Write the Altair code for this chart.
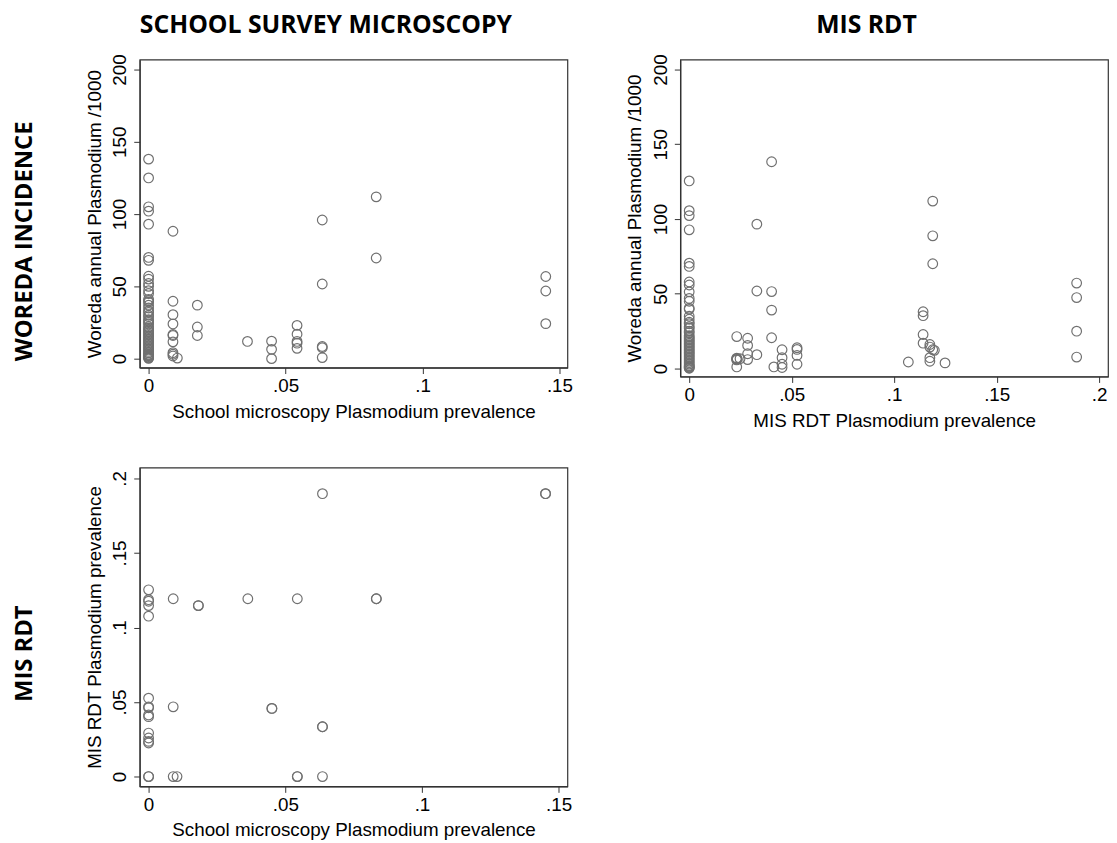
import altair as alt
import pandas as pd

# ---- Panel 1: school microscopy prevalence vs woreda incidence ----
p1_x = [0.0]*52 + [0.0089]*10 + [0.0105] + [0.0178]*3 + [0.0361] + [0.0449]*3 + \
       [0.0542]*5 + [0.0634]*5 + [0.0831]*2 + [0.145]*3
p1_y = [138, 125, 105, 102, 93, 70, 68, 57, 55, 52, 50, 47, 45, 41, 40, 39, 37, 35,
        33, 32, 30, 29, 27, 26, 25, 24, 22, 21, 20, 19, 18, 17, 16, 15, 14, 13, 12,
        11, 10, 9, 8, 7, 6, 5, 4, 3, 2.5, 2, 1.5, 1, 0.5, 0.2] + \
       [88.1, 39.7, 30.4, 24.0, 16.7, 16.0, 11.6, 4.1, 3.0, 1.8] + [0.4] + \
       [37.0, 21.9, 16.0] + [11.9] + [12.1, 6.4, 0.0] + \
       [23.0, 16.9, 11.9, 10.7, 7.1] + [95.9, 51.6, 8.4, 7.5, 0.7] + \
       [111.9, 69.6] + [56.8, 46.8, 24.2]

# ---- Panel 2: MIS RDT prevalence vs woreda incidence ----
p2_x = [0.0]*46 + [0.0232]*6 + [0.0248] + [0.0285]*4 + [0.033]*3 + [0.0402]*4 + \
       [0.0413] + [0.0453]*4 + [0.0526]*4 + [0.1069] + [0.1141]*4 + [0.1174]*4 + \
       [0.1188]*4 + [0.1196] + [0.1248] + [0.189]*4
p2_y = [125.5, 105.6, 102.3, 92.8, 70.5, 68.3, 57.9, 55.9, 51.3, 46.9, 45, 40.4,
        39.6, 35, 33, 31, 30, 28, 27, 25, 24, 22, 21, 20, 19, 18, 17, 16, 15, 14,
        13, 12, 11, 10, 9, 8, 7, 6, 5, 4, 3, 2, 1.5, 1, 0.5, 0.2] + \
       [21.4, 7.0, 6.6, 6.2, 5.8, 1.1] + [6.6] + [20.3, 15.5, 9.9, 6.0] + \
       [96.6, 51.9, 9.3] + [138.3, 51.5, 39.1, 20.6] + [1.1] + \
       [12.6, 7.3, 2.9, 0.7] + [13.9, 12.8, 8.8, 2.9] + [4.4] + \
       [38.0, 35.4, 22.8, 17.0] + [16.1, 14.4, 7.3, 4.9] + \
       [112.0, 88.8, 70.1, 12.6] + [12.2] + [3.8] + [57.2, 47.5, 25.0, 7.7]

# ---- Panel 3: school microscopy prevalence vs MIS RDT prevalence ----
p3_x = [0.0]*16 + [0.009]*3 + [0.0104] + [0.0182]*2 + [0.0363] + [0.0451]*2 + \
       [0.0544]*3 + [0.0636]*4 + [0.0833]*2 + [0.1452]*2
p3_y = [0.1253, 0.1187, 0.1176, 0.1147, 0.1076, 0.0526, 0.0468, 0.0462, 0.0413,
        0.0402, 0.0292, 0.0259, 0.0236, 0.0225, 0.0, 0.0] + \
       [0.1193, 0.0468, 0.0] + [0.0] + [0.1147, 0.1147] + [0.1193] + \
       [0.0457, 0.0457] + [0.1193, 0.0, 0.0] + [0.1898, 0.0334, 0.0334, 0.0] + \
       [0.1193, 0.1193] + [0.1898, 0.1898]

col_titles = ["SCHOOL SURVEY MICROSCOPY", "MIS RDT"]
row_titles = ["WOREDA INCIDENCE", "MIS RDT"]
x_school = "School microscopy Plasmodium prevalence"
x_rdt = "MIS RDT Plasmodium prevalence"
y_inc = "Woreda annual Plasmodium /1000"
y_rdt = "MIS RDT Plasmodium prevalence"

DEC = "datum.value == 0 ? '0' : slice(format(datum.value, '.2~f'), 1)"
GREY = "#707070"
TFONT = "Open Sans"


def col_title(text):
    return alt.TitleParams(text, font=TFONT, fontWeight="bold", fontSize=25,
                           color="black", anchor="middle", offset=16, dx=-28)


def xaxis(title, vals):
    return alt.Axis(title=title, values=vals, labelExpr=DEC, tickSize=6,
                    labelPadding=3, titlePadding=7)


def yaxis(title, vals, dec):
    kw = dict(title=title, values=vals, tickSize=6, labelAngle=270,
              labelAlign="center", labelBaseline="bottom", labelPadding=4,
              titlePadding=7)
    if dec:
        kw["labelExpr"] = DEC
    return alt.Axis(**kw)


def scatter(xs, ys, xdom, ydom, xt, yt, xv, yv, ydec, w, h, title=None):
    df = pd.DataFrame({"x": xs, "y": ys})
    c = alt.Chart(df).mark_point(shape="circle", filled=False, size=95,
                                 strokeWidth=1.2, color=GREY, opacity=1).encode(
        x=alt.X("x:Q", scale=alt.Scale(domain=xdom, nice=False, zero=False),
                axis=xaxis(xt, xv)),
        y=alt.Y("y:Q", scale=alt.Scale(domain=ydom, nice=False, zero=False),
                axis=yaxis(yt, yv, ydec)),
    )
    props = dict(width=w, height=h)
    if title is not None:
        props["title"] = title
    return c.properties(**props)


p1 = scatter(p1_x, p1_y, [-0.00325, 0.1529], [-6.2, 206.8], x_school, y_inc,
             [0, 0.05, 0.1, 0.15], [0, 50, 100, 150, 200], False, 432, 311,
             col_title(col_titles[0]))
p2 = scatter(p2_x, p2_y, [-0.00435, 0.2043], [-5.3, 206.6], x_rdt, y_inc,
             [0, 0.05, 0.1, 0.15, 0.2], [0, 50, 100, 150, 200], False, 432, 320,
             col_title(col_titles[1]))
p3 = scatter(p3_x, p3_y, [-0.00326, 0.1532], [-0.0066, 0.2073], x_school, y_rdt,
             [0, 0.05, 0.1, 0.15], [0, 0.05, 0.1, 0.15, 0.2], True, 432, 322)


def row_title(text, dx):
    return alt.TitleParams(text, orient="left", font=TFONT, fontWeight="bold",
                           fontSize=24, color="black", anchor="middle", offset=48,
                           dx=dx)


top = alt.hconcat(p1, p2, spacing=52, title=row_title(row_titles[0], -20))
bottom = alt.hconcat(p3, title=row_title(row_titles[1], 0))

chart = alt.vconcat(top, bottom, spacing=36).properties(
    padding={"left": 5, "top": 0, "right": 0, "bottom": 0}
).configure_view(
    stroke="#333333", strokeWidth=1.2
).configure_axis(
    grid=False, domainColor="#333333", tickColor="#333333", domainWidth=1.2,
    labelColor="black", titleColor="black", labelFont="Liberation Sans",
    titleFont="Liberation Sans", labelFontSize=19, titleFontSize=19,
    titleFontWeight="normal"
)

chart.save("out.html", embed_options={"renderer": "svg", "actions": False})
